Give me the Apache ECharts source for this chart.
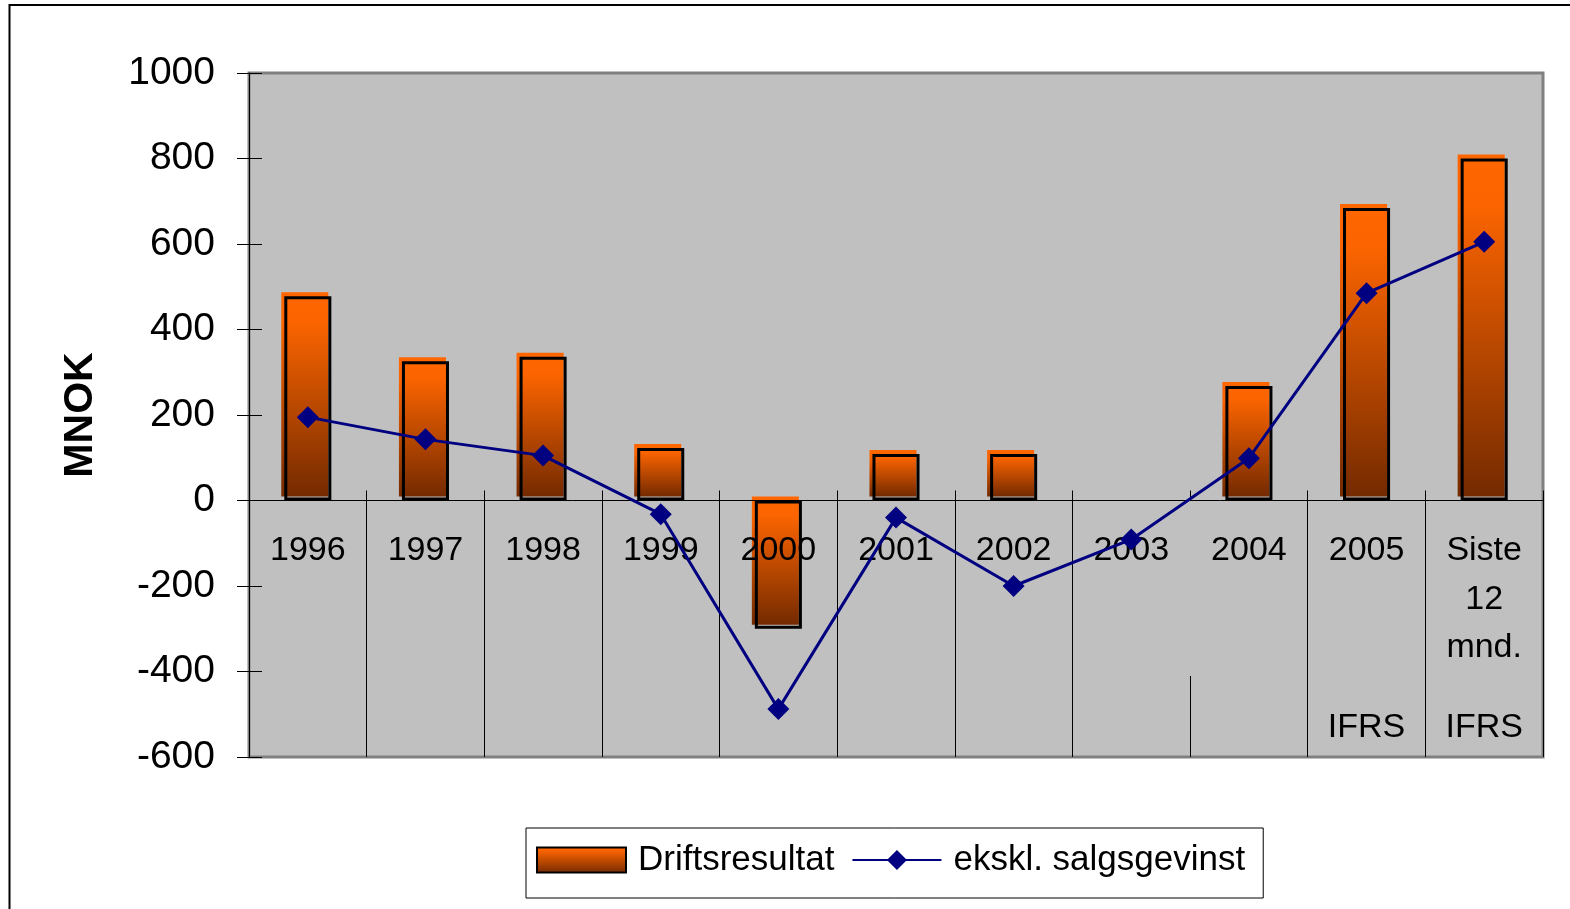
<!DOCTYPE html>
<html>
<head>
<meta charset="utf-8">
<script src="https://cdn.jsdelivr.net/npm/echarts@6/dist/echarts.min.js"></script>
<style>
  html, body { margin: 0; padding: 0; background: #fff; }
  #chart { width: 1570px; height: 909px; }
</style>
</head>
<body>
<div id="chart"></div>
<script>
// kategorier (x-akse)
var categories = ['1996', '1997', '1998', '1999', '2000', '2001', '2002', '2003', '2004', '2005', 'Siste\n12\nmnd.'];
var subLabels = ['', '', '', '', '', '', '', '', '', 'IFRS', 'IFRS'];
var yTicks = [-600, -400, -200, 0, 200, 400, 600, 800, 1000];

// serier
var seriesNames = ['Driftsresultat', 'ekskl. salgsgevinst'];
var driftsresultat = [478, 326, 336, 123, -300, 109, 109, null, 268, 684, 800];
var eksklSalgsgevinst = [195, 143, 105, -32, -488, -40, -200, -91, 99, 485, 605];

var FONT = 'Liberation Sans';
var GRID_TOP = 73, GRID_BOTTOM = 152, CHART_H = 909;
var yMin = yTicks[0], yMax = yTicks[yTicks.length - 1];
// x-aksen med etiketter skal ligge på 0-linjen
var plotH = CHART_H - GRID_TOP - GRID_BOTTOM;
var zeroOffset = -plotH * (0 - yMin) / (yMax - yMin);

function barGradient() {
  return new echarts.graphic.LinearGradient(0, 0, 0, 1, [
    { offset: 0, color: '#FF6600' },
    { offset: 0.15, color: '#FB6400' },
    { offset: 1, color: '#742A00' }
  ]);
}

var myChart = echarts.init(document.getElementById('chart'), null, { renderer: 'canvas' });

var option = {
  backgroundColor: '#fff',
  animation: false,
  graphic: [
    {
      type: 'rect',
      z: -10,
      shape: { x: 9.5, y: 5, width: 1620, height: 1000 },
      style: { fill: 'none', stroke: '#000', lineWidth: 2 }
    }
  ],
  grid: {
    left: 249,
    right: 27,
    top: GRID_TOP,
    bottom: GRID_BOTTOM,
    containLabel: false,
    outerBoundsMode: 'none',
    show: true,
    backgroundColor: '#C0C0C0',
    borderColor: '#808080',
    borderWidth: 3
  },
  legend: {
    left: 526,
    top: 828,
    padding: [13, 18, 19, 10],
    backgroundColor: '#fff',
    borderColor: '#000',
    borderWidth: 1,
    borderRadius: 0,
    itemWidth: 89,
    itemHeight: 25,
    itemGap: 17,
    textStyle: { fontFamily: FONT, fontSize: 35, color: '#000', lineHeight: 38, padding: [0, 0, 0, 7] },
    data: [
      { name: seriesNames[0], icon: 'rect', itemStyle: { color: barGradient(), borderColor: '#000', borderWidth: 2 } },
      { name: seriesNames[1] }
    ]
  },
  xAxis: [
    {
      type: 'category',
      data: categories,
      z: 3,
      position: 'bottom',
      offset: zeroOffset,
      axisLine: { show: true, onZero: false, lineStyle: { color: '#000', width: 1 } },
      axisTick: { show: true, inside: true, length: 10, lineStyle: { color: '#000' } },
      axisLabel: {
        interval: 0,
        margin: 26,
        fontFamily: FONT,
        fontSize: 34,
        lineHeight: 48.5,
        color: '#000'
      },
      splitLine: { show: false }
    },
    {
      // skillelinjer mellom kategoriene + IFRS
      type: 'category',
      data: subLabels,
      position: 'bottom',
      axisLine: { show: false, onZero: false },
      axisTick: {
        show: true,
        inside: true,
        length: 257,
        interval: function (i) { return i !== 8; },
        lineStyle: { color: '#000' }
      },
      axisLabel: {
        inside: true,
        interval: 0,
        margin: 12,
        fontFamily: FONT,
        fontSize: 34,
        color: '#000'
      },
      splitLine: { show: false }
    },
    {
      type: 'category',
      data: subLabels,
      position: 'bottom',
      axisLine: { show: false, onZero: false },
      axisTick: {
        show: true,
        inside: true,
        length: 81,
        interval: function (i) { return i === 0 || i === 8; },
        lineStyle: { color: '#000' }
      },
      axisLabel: { show: false },
      splitLine: { show: false }
    }
  ],
  yAxis: [
    {
      type: 'value',
      min: yMin,
      max: yMax,
      interval: 200,
      name: 'MNOK',
      nameLocation: 'middle',
      nameGap: 148,
      nameTextStyle: { fontFamily: FONT, fontSize: 41, fontWeight: 'bold', color: '#000' },
      axisLine: { show: true, onZero: false, lineStyle: { color: '#000', width: 1 } },
      axisTick: { show: true, length: 12, lineStyle: { color: '#000' } },
      axisLabel: {
        margin: 34,
        fontFamily: FONT,
        fontSize: 39,
        color: '#000',
        formatter: function (v) { return String(v); }
      },
      splitLine: { show: false }
    },
    {
      type: 'value',
      position: 'left',
      min: yMin,
      max: yMax,
      interval: 200,
      axisLine: { show: false, onZero: false },
      axisTick: { show: true, inside: true, length: 13, lineStyle: { color: '#000' } },
      axisLabel: { show: false },
      splitLine: { show: false }
    }
  ],
  series: [
    {
      // fylt søyle, litt forskjøvet opp/venstre
      name: 'fill',
      type: 'custom',
      z: 1,
      silent: true,
      data: driftsresultat.map(function (v, i) { return [i, v]; }),
      renderItem: function (params, api) {
        var v = api.value(1);
        if (v == null || isNaN(v)) return;
        var p0 = api.coord([api.value(0), 0]);
        var p1 = api.coord([api.value(0), v]);
        var w = api.size([1, 0])[0] * 0.4;
        return {
          type: 'rect',
          shape: {
            x: p0[0] - w / 2 - 3,
            y: Math.min(p0[1], p1[1]) - 4,
            width: w,
            height: Math.abs(p1[1] - p0[1])
          },
          style: { fill: barGradient() }
        };
      }
    },
    {
      name: seriesNames[0],
      type: 'bar',
      z: 2,
      barWidth: '40%',
      data: driftsresultat,
      itemStyle: { color: 'rgba(0,0,0,0)', borderColor: '#000', borderWidth: 3 }
    },
    {
      name: seriesNames[1],
      type: 'line',
      z: 4,
      data: eksklSalgsgevinst,
      symbol: 'diamond',
      symbolSize: 22,
      lineStyle: { color: '#000080', width: 3 },
      itemStyle: { color: '#000080' }
    }
  ]
};

myChart.setOption(option);
</script>
</body>
</html>
